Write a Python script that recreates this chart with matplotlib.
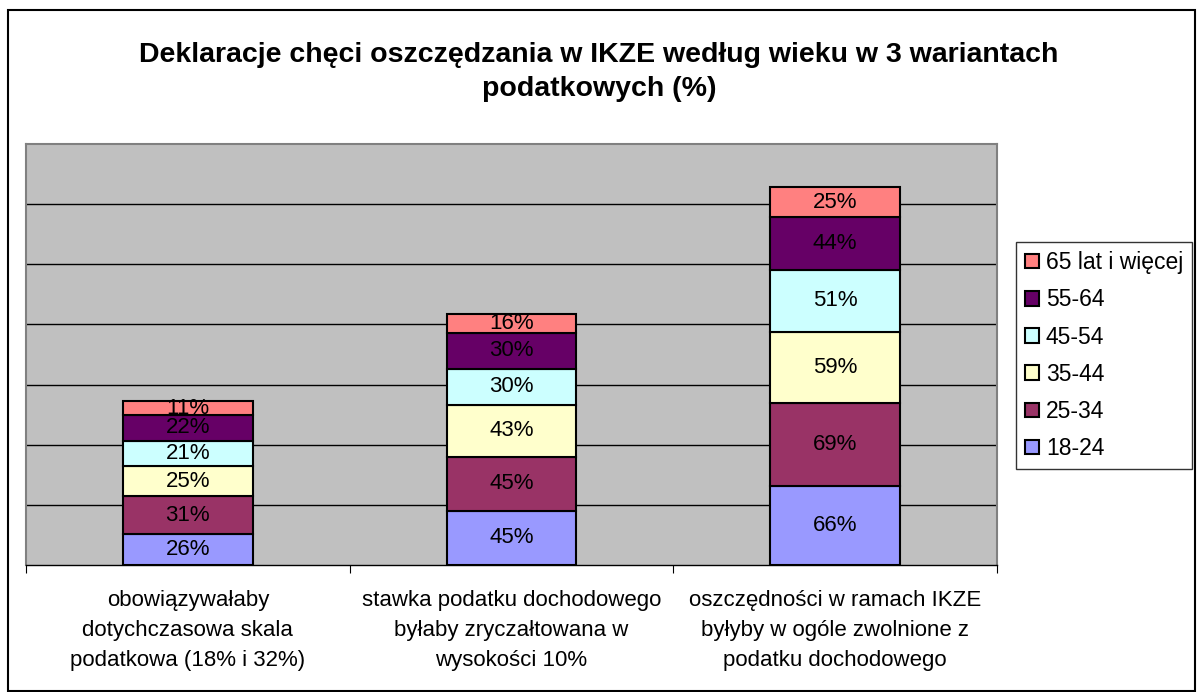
import matplotlib
matplotlib.use("Agg")
import matplotlib.pyplot as plt
import matplotlib.patches as mpatches
import numpy as np

plt.rcParams['font.family'] = ['Liberation Sans', 'DejaVu Sans']

categories = ["obowiązywałaby\ndotychczasowa skala\npodatkowa (18% i 32%)",
              "stawka podatku dochodowego\nbyłaby zryczałtowana w\nwysokości 10%",
              "oszczędności w ramach IKZE\nbyłyby w ogóle zwolnione z\npodatku dochodowego"]
groups = ["18-24", "25-34", "35-44", "45-54", "55-64", "65 lat i więcej"]
v_18_24 = [26, 45, 66]
v_25_34 = [31, 45, 69]
v_35_44 = [25, 43, 59]
v_45_54 = [21, 30, 51]
v_55_64 = [22, 30, 44]
v_65 = [11, 16, 25]
values = [v_18_24, v_25_34, v_35_44, v_45_54, v_55_64, v_65]
colors = ["#9999FF", "#993366", "#FFFFCC", "#CCFFFF", "#660066", "#FF8080"]

W, H = 1198, 692
fig = plt.figure(figsize=(W / 100, H / 100), dpi=100)
fig.patch.set_facecolor("white")

# outer frame of the chart
fig.patches.append(mpatches.Rectangle((8 / W, 1 - 691 / H), (1195 - 8) / W, (691 - 10) / H,
                                      transform=fig.transFigure, fill=False,
                                      edgecolor="black", linewidth=1.5))

ax = fig.add_axes([26 / W, 1 - 565 / H, (997 - 26) / W, (565 - 144) / H])
ax.set_facecolor("#C0C0C0")
ax.set_xlim(0, 3)
ax.set_ylim(0, 350)

for y in range(50, 350, 50):
    ax.axhline(y, color="black", linewidth=1, zorder=1)

x = np.arange(3) + 0.5
bottom = np.zeros(3)
bars = []
for name, vals, c in zip(groups, values, colors):
    b = ax.bar(x, vals, 0.40, bottom=bottom, color=c, edgecolor="black",
               linewidth=1.5, label=name, zorder=3)
    bars.append(b)
    for xi, v, bt in zip(x, vals, bottom):
        ax.text(xi, bt + v / 2, "%d%%" % v, ha="center", va="center",
                fontsize=16, color="black", zorder=4)
    bottom += np.array(vals)

for side in ["top", "left", "right"]:
    ax.spines[side].set_color("#808080")
    ax.spines[side].set_linewidth(1.5)
ax.spines["bottom"].set_color("black")
ax.spines["bottom"].set_linewidth(1)

ax.set_yticks([])
ax.set_xticks([0, 1, 2, 3])
ax.set_xticklabels([])
ax.tick_params(axis="x", which="major", direction="out", length=6, color="black")
ax.set_xticks(x, minor=True)
ax.set_xticklabels(categories, minor=True, fontsize=16, linespacing=1.55)
ax.tick_params(axis="x", which="minor", length=0, pad=18)

fig.text(0.5, 1 - 72 / H, "Deklaracje chęci oszczędzania w IKZE według wieku w 3 wariantach\npodatkowych (%)",
         ha="center", va="center", fontsize=20.5, fontweight="bold", linespacing=1.45)

handles = bars[::-1]
leg = fig.legend(handles, groups[::-1], loc="upper left",
                 bbox_to_anchor=(1016 / W, 1 - 242 / H), fontsize=16.5,
                 frameon=True, fancybox=False, handlelength=0.6, handleheight=0.6,
                 handletextpad=0.3, labelspacing=0.62, borderpad=0.4, borderaxespad=0)
leg.get_frame().set_edgecolor("black")
leg.get_frame().set_linewidth(1)

fig.savefig("out.png", dpi=100)
